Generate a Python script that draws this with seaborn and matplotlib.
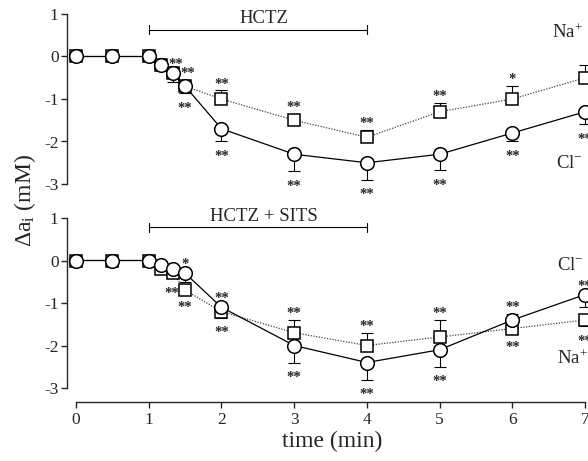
import matplotlib
matplotlib.use("Agg")
import matplotlib.pyplot as plt
import seaborn as sns
import numpy as np

# ---------------- data ----------------
time = [0, 0.5, 1, 1.17, 1.33, 1.5, 2, 3, 4, 5, 6, 7]

top_na = [0, 0, 0, -0.2, -0.4, -0.7, -1.0, -1.5, -1.9, -1.3, -1.0, -0.5]
top_na_err = [0, 0, 0, 0, 0, 0, 0.2, 0.15, 0.18, 0.2, 0.3, 0.3]
top_cl = [0, 0, 0, -0.2, -0.4, -0.7, -1.7, -2.3, -2.5, -2.3, -1.8, -1.3]
top_cl_err = [0, 0, 0, 0, -0.2, -0.17, -0.3, -0.4, -0.4, -0.38, -0.2, -0.3]

bot_na = [0, 0, 0, -0.2, -0.3, -0.7, -1.2, -1.7, -2.0, -1.8, -1.6, -1.4]
bot_na_err = [0, 0, 0, 0, 0, 0, -0.15, 0.3, 0.3, 0.4, -0.1, -0.15]
bot_cl = [0, 0, 0, -0.1, -0.2, -0.3, -1.1, -2.0, -2.4, -2.1, -1.4, -0.8]
bot_cl_err = [0, 0, 0, 0, 0, -0.2, 0, -0.4, -0.4, -0.4, 0.15, -0.3]

top_na_sig = ['', '', '', '', '', '', '**', '**', '**', '**', '*', '']
top_na_pos = ['a'] * 12
top_cl_sig = ['', '', '', '**', '**', '**', '**', '**', '**', '**', '**', '**']
top_cl_pos = ['', '', '', 'r', 'r', 'b', 'b', 'b', 'b', 'b', 'b', 'b']

bot_na_sig = ['', '', '', '', '', '**', '**', '**', '**', '**', '**', '**']
bot_na_pos = ['', '', '', '', '', 'lb', 'b', 'a', 'a', 'a', 'b', 'b']
bot_cl_sig = ['', '', '', '', '', '*', '**', '**', '**', '**', '**', '**']
bot_cl_pos = ['', '', '', '', '', 'a', 'a', 'b', 'b', 'b', 'a', 'a']

yticks = [-3, -2, -1, 0, 1]
xticks = [0, 1, 2, 3, 4, 5, 6, 7]
treatments = ["HCTZ", "HCTZ + SITS"]
treat_span = [1, 4]

# ---------------- style ----------------
sns.set_style("ticks")
plt.rcParams['font.family'] = ['Liberation Serif', 'DejaVu Serif']
plt.rcParams['axes.unicode_minus'] = False
plt.rcParams['mathtext.fontset'] = 'custom'
plt.rcParams['mathtext.rm'] = 'Liberation Serif'
plt.rcParams['mathtext.it'] = 'Liberation Serif:italic'

fig = plt.figure(figsize=(5.88, 4.61), dpi=100)
W, H = 588, 461
left = 67 / W
width = (588 - 67) / W
ax_top = fig.add_axes([left, 1 - 184 / H, width, 170 / H])
ax_bot = fig.add_axes([left, 1 - 388 / H, width, 170 / H])


def draw_panel(ax, na, na_err, cl, cl_err, na_sig, na_pos, cl_sig, cl_pos):
    t = np.array(time, dtype=float)
    for vals, errs, z in ((na, na_err, 2), (cl, cl_err, 3)):
        v = np.array(vals, dtype=float)
        e = np.array(errs, dtype=float)
        m = e != 0
        lower = np.where(e < 0, -e, 0)[m]
        upper = np.where(e > 0, e, 0)[m]
        ax.errorbar(t[m], v[m], yerr=[lower, upper], fmt='none', ecolor='black',
                    elinewidth=0.8, capsize=4.5, capthick=0.8, zorder=z, clip_on=False)
    sns.lineplot(x=time, y=na, ax=ax, color='#444444', linestyle=(0, (1, 1.2)),
                 linewidth=0.9, marker='s', markersize=8.8, markerfacecolor='white',
                 markeredgecolor='black', markeredgewidth=1.1, errorbar=None,
                 zorder=4, clip_on=False)
    sns.lineplot(x=time, y=cl, ax=ax, color='black', linestyle='-',
                 linewidth=0.9, marker='o', markersize=9.8, markerfacecolor='white',
                 markeredgecolor='black', markeredgewidth=1.1, errorbar=None,
                 zorder=5, clip_on=False)
    for vals, errs, sigs, poss in ((na, na_err, na_sig, na_pos), (cl, cl_err, cl_sig, cl_pos)):
        for x, v, e, s, p in zip(time, vals, errs, sigs, poss):
            if not s:
                continue
            for code in p:
                if code == 'a':
                    yy = v + (e + 0.25 if e > 0 else 0.3)
                    xx = x
                elif code == 'b':
                    yy = v - (-e + 0.25 if e < 0 else 0.3)
                    xx = x
                elif code == 'r':
                    xx, yy = x + 0.2, v + 0.1
                else:
                    xx, yy = x - 0.18, v + 0.03
                ax.text(xx, yy - 0.1, s, ha='center', va='center', fontsize=10.5,
                        fontweight='bold', zorder=6, clip_on=False)


draw_panel(ax_top, top_na, top_na_err, top_cl, top_cl_err,
           top_na_sig, top_na_pos, top_cl_sig, top_cl_pos)
draw_panel(ax_bot, bot_na, bot_na_err, bot_cl, bot_cl_err,
           bot_na_sig, bot_na_pos, bot_cl_sig, bot_cl_pos)

for ax in (ax_top, ax_bot):
    ax.set_xlim(-0.124, 7.04)
    ax.set_ylim(-3, 1)
    ax.set_yticks(yticks)
    ax.set_yticklabels([str(v) for v in yticks], fontsize=12.5)
    ax.spines['top'].set_visible(False)
    ax.spines['right'].set_visible(False)
    ax.spines['left'].set_linewidth(1.0)
    ax.tick_params(axis='y', length=4, width=1, pad=2, direction='out')
    ax.set_xlabel('')
    ax.set_ylabel('')

ax_top.spines['bottom'].set_visible(False)
ax_top.set_xticks([])

ax_bot.spines['bottom'].set_position(('outward', 10))
ax_bot.spines['bottom'].set_bounds(0, 7)
ax_bot.spines['bottom'].set_linewidth(1.0)
ax_bot.set_xticks(xticks)
ax_bot.set_xticklabels([str(v) for v in xticks], fontsize=12.5)
ax_bot.tick_params(axis='x', length=4, width=1, pad=3)

# treatment bars
for ax, label, ybar in ((ax_top, treatments[0], 0.63), (ax_bot, treatments[1], 0.78)):
    ax.plot(treat_span, [ybar, ybar], color='black', lw=0.8, clip_on=False)
    for xe in treat_span:
        ax.plot([xe, xe], [ybar - 0.11, ybar + 0.11], color='black', lw=0.8, clip_on=False)
    ax.text(2.58, ybar + 0.06, label, ha='center', va='bottom', fontsize=13.5)

# ion labels
ax_top.text(6.75, 0.56, 'Na$^{+}$', ha='center', va='center', fontsize=13.5)
ax_top.text(6.78, -2.52, 'Cl$^{-}$', ha='center', va='center', fontsize=13.5)
ax_bot.text(6.8, -0.12, 'Cl$^{-}$', ha='center', va='center', fontsize=13.5)
ax_bot.text(6.82, -2.3, 'Na$^{+}$', ha='center', va='center', fontsize=13.5)

fig.text(25 / W, 1 - 200 / H, r'$\Delta$a$_\mathregular{i}$ (mM)', rotation=90, ha='center',
         va='center', fontsize=17)
fig.text(332 / W, 1 - 441 / H, 'time (min)', ha='center', va='center',
         fontsize=17)

fig.savefig('out.png', dpi=100)
